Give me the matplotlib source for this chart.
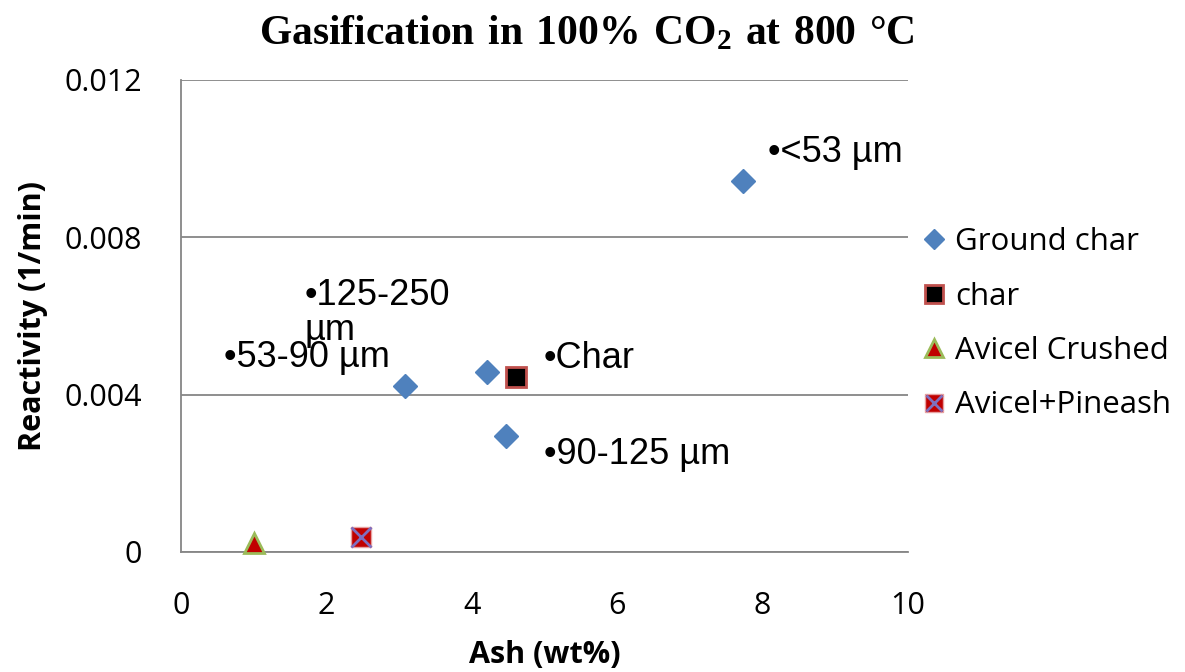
import matplotlib.pyplot as plt
from matplotlib.legend_handler import HandlerTuple

# Data
ground_ash = [7.73, 3.08, 4.21, 4.47]
ground_react = [0.00943, 0.00422, 0.00458, 0.00295]
char_ash = [4.61]
char_react = [0.00445]
crushed_ash = [1.0]
crushed_react = [0.00023]
pine_ash = [2.48]
pine_react = [0.00038]

label_text = ['•<53 µm', '•125-250', '•53-90 µm', '•Char', '•90-125 µm']
label_x = [8.07, 1.70, 0.59, 4.99, 4.99]
label_y = [0.01015, 0.00652, 0.00494, 0.00492, 0.00248]
wrap_text = 'µm'
wrap_x, wrap_y = 1.70, 0.00563

plt.rcParams['font.family'] = ['Open Sans', 'DejaVu Sans']
plt.rcParams['mathtext.fontset'] = 'custom'
plt.rcParams['mathtext.rm'] = 'Liberation Serif'
plt.rcParams['mathtext.bf'] = 'Liberation Serif:bold'

fig = plt.figure(figsize=(11.85, 6.72), dpi=100)
ax = fig.add_axes([0.1527, 0.1786, 0.6135, 0.7024])

h1, = ax.plot(ground_ash, ground_react, 'D', ms=12, color='#4F81BD', mec='#4F81BD',
              label='Ground char')
h2, = ax.plot(char_ash, char_react, 's', ms=15, color='black', mec='#C0504D', mew=2,
              label='char')
h3, = ax.plot(crushed_ash, crushed_react, '^', ms=15, color='#C00000', mec='#9BBB59', mew=2,
              label='Avicel Crushed', clip_on=False, zorder=5)
h4, = ax.plot(pine_ash, pine_react, 's', ms=15, color='#C00000', mec='#E6A0A0', mew=1,
              zorder=5)
h5, = ax.plot(pine_ash, pine_react, 'x', ms=14, color='#7F6FBF', mew=2, zorder=6)

lab_font = ['Liberation Sans', 'DejaVu Sans']
for t, x, y in zip(label_text, label_x, label_y):
    ax.text(x, y, t, fontsize=26, ha='left', va='center', fontfamily=lab_font)
ax.text(wrap_x, wrap_y, wrap_text, fontsize=26, ha='left', va='center', fontfamily=lab_font)

ax.set_xlim(0, 10)
ax.set_ylim(0, 0.012)
ax.set_xticks([0, 2, 4, 6, 8, 10])
ax.set_yticks([0, 0.004, 0.008, 0.012])
ax.set_yticklabels(['0', '0.004', '0.008', '0.012'])
ax.tick_params(labelsize=22, length=0)
ax.tick_params(axis='y', pad=28)
ax.tick_params(axis='x', pad=28)
ax.grid(axis='y', color='#868686', lw=1.3)
ax.set_axisbelow(True)
for s in ['top', 'right']:
    ax.spines[s].set_visible(False)
for s in ['left', 'bottom']:
    ax.spines[s].set_color('#868686')
    ax.spines[s].set_linewidth(1.3)

ax.set_xlabel('Ash (wt%)', fontsize=22, fontweight='bold', labelpad=14)
ax.set_ylabel('Reactivity (1/min)', fontsize=22, fontweight='bold', labelpad=12)
fig.text(0.495, 0.950, r'$\mathbf{Gasification\ in\ 100\%\ CO_2\ at\ 800\ °C}$',
         ha='center', va='center', fontsize=30)

leg = fig.legend([h1, h2, h3, (h4, h5)],
                 ['Ground char', 'char', 'Avicel Crushed', 'Avicel+Pineash'],
                 handler_map={tuple: HandlerTuple(ndivide=1)},
                 loc='center left', bbox_to_anchor=(0.776, 0.518), frameon=False,
                 prop={'size': 22.5},
                 handlelength=0.9, handletextpad=0.25, labelspacing=0.78, markerscale=0.85,
                 borderaxespad=0, borderpad=0)

fig.savefig('out.png', dpi=100)
